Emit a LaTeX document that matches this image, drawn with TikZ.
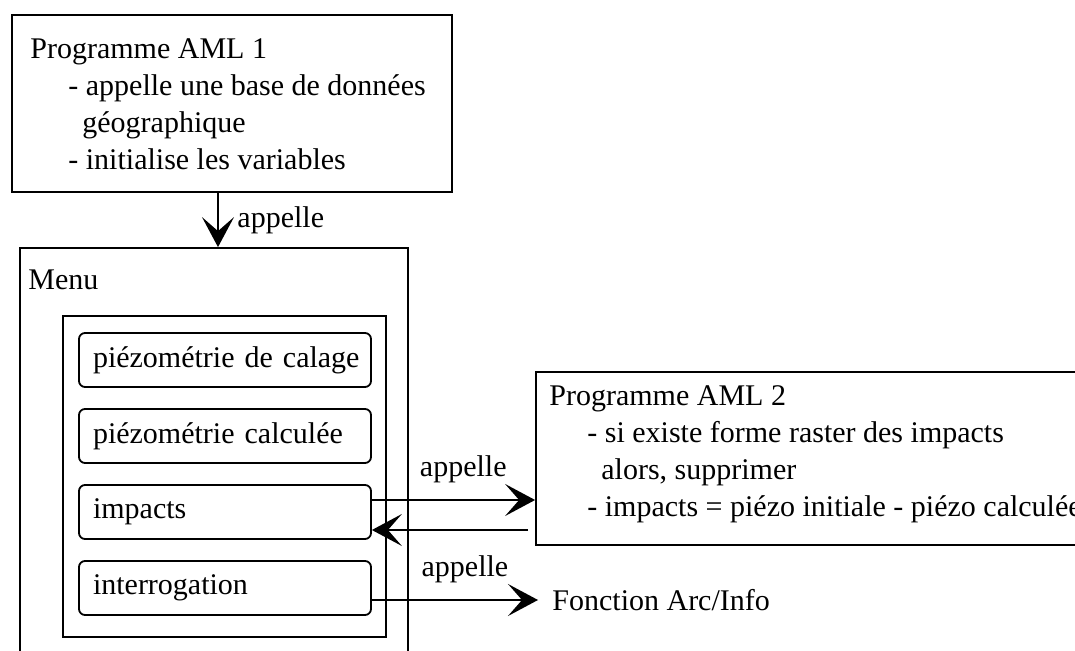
\documentclass[tikz,border=0pt]{standalone}
\usepackage{fontspec}
\setmainfont{Liberation Serif}
\usetikzlibrary{arrows.meta,positioning}
\tikzset{
  box/.style={draw, line width=0.9pt, inner sep=0pt},
  item/.style={draw, line width=0.9pt, rounded corners=3pt, text width=132pt, inner xsep=7pt, inner ysep=0pt, minimum height=27pt, align=left},
  txt/.style={align=left, inner sep=0pt, anchor=north west},
  arr/.style={-{Stealth[length=15pt, width=16pt, inset=7pt]}, line width=0.8pt}}

\begin{document}
\begin{tikzpicture}[x=0.5pt, y=-0.5pt, font=\fontsize{15}{18.5}\selectfont]
  \useasboundingbox (0,0) rectangle (1075,651);
  % boxes
  \node[box, minimum width=220pt, minimum height=88.5pt] (aml1) at (232,103.5) {};
  \node[box, minimum width=194pt, minimum height=210pt] (menu) at (214,458) {};
  \node[box, minimum width=161.5pt, minimum height=160.5pt] (frame) at (224.5,476.5) {};
  \node[box, minimum width=280pt, minimum height=86.5pt] (aml2) at (816,458.5) {};
  % texts
  \node[txt] (aml1txt) at (30,38) {Programme AML 1\\
    \hspace*{19pt}- appelle une base de données\\
    \hspace*{26pt}géographique\\
    \hspace*{19pt}- initialise les variables};
  \node[anchor=base west, inner sep=0pt] (menutxt) at (28,290) {Menu};
  \node[txt] (aml2txt) at (549,385) {Programme AML 2\\
    \hspace*{19pt}- si existe forme raster des impacts\\
    \hspace*{26pt}alors, supprimer\\
    \hspace*{19pt}- impacts = piézo initiale - piézo calculée};
  % menu items
  \foreach \name/\y/\label in {cal/360/piézométrie de calage, calc/436/piézométrie calculée,
      imp/512/impacts, int/588/interrogation}
    \node[item] (it\name) at (225,\y) {\mbox{\label}};
  \node[anchor=west, inner xsep=7pt] (arcinfo) at (538,600) {Fonction Arc/Info};
  % connectors
  \draw[arr] ([xshift=2pt]menu.north |- aml1.south) -- ([xshift=2pt]menu.north)
    node[midway, right=6pt] {appelle};
  \draw[arr] ([yshift=6pt]itimp.east) -- ([yshift=6pt]itimp.east -| aml2.west)
    node[above=5pt, pos=0.56] {appelle};
  \draw[arr] ([xshift=-3.5pt, yshift=-9pt]aml2.west |- itimp.east) -- ([yshift=-9pt]itimp.east);
  \draw[arr] ([yshift=-6pt]itint.east) -- (arcinfo.west)
    node[above=5pt, pos=0.56] {appelle};
\end{tikzpicture}
\end{document}
